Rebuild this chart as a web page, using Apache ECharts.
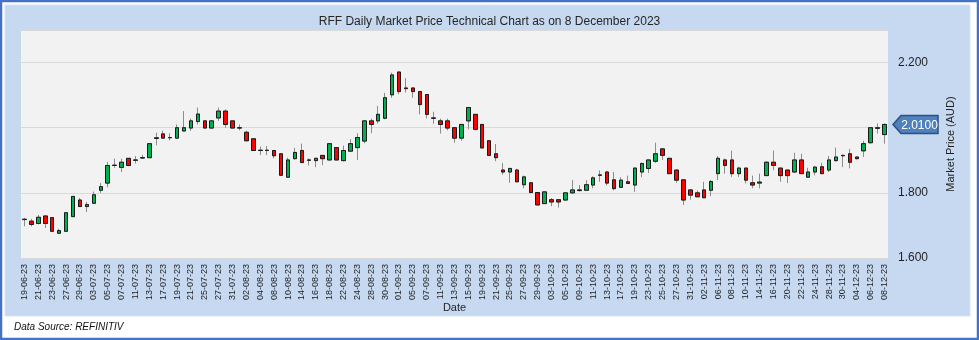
<!DOCTYPE html>
<html>
<head>
<meta charset="utf-8">
<title>RFF Daily Market Price</title>
<script src="https://cdn.jsdelivr.net/npm/echarts@6/dist/echarts.min.js"></script>
<style>
  html, body { margin: 0; padding: 0; background: #ffffff; }
  #chart { width: 979px; height: 340px; }
</style>
</head>
<body>
<div id="chart"></div>
<script>
// Trading days, 19 June 2023 to 8 December 2023
const dates = [
  '19-06-23','20-06-23','21-06-23','22-06-23','23-06-23','26-06-23','27-06-23','28-06-23','29-06-23','30-06-23',
  '03-07-23','04-07-23','05-07-23','06-07-23','07-07-23','10-07-23','11-07-23','12-07-23','13-07-23','14-07-23',
  '17-07-23','18-07-23','19-07-23','20-07-23','21-07-23','24-07-23','25-07-23','26-07-23','27-07-23','28-07-23','31-07-23',
  '01-08-23','02-08-23','03-08-23','04-08-23','07-08-23','08-08-23','09-08-23','10-08-23','11-08-23','14-08-23',
  '15-08-23','16-08-23','17-08-23','18-08-23','21-08-23','22-08-23','23-08-23','24-08-23','25-08-23','28-08-23',
  '29-08-23','30-08-23','31-08-23',
  '01-09-23','04-09-23','05-09-23','06-09-23','07-09-23','08-09-23','11-09-23','12-09-23','13-09-23','14-09-23',
  '15-09-23','18-09-23','19-09-23','20-09-23','21-09-23','22-09-23','25-09-23','26-09-23','27-09-23','28-09-23','29-09-23',
  '02-10-23','03-10-23','04-10-23','05-10-23','06-10-23','09-10-23','10-10-23','11-10-23','12-10-23','13-10-23',
  '16-10-23','17-10-23','18-10-23','19-10-23','20-10-23','23-10-23','24-10-23','25-10-23','26-10-23','27-10-23',
  '30-10-23','31-10-23',
  '01-11-23','02-11-23','03-11-23','06-11-23','07-11-23','08-11-23','09-11-23','10-11-23','13-11-23','14-11-23',
  '15-11-23','16-11-23','17-11-23','20-11-23','21-11-23','22-11-23','23-11-23','24-11-23','27-11-23','28-11-23',
  '29-11-23','30-11-23',
  '01-12-23','04-12-23','05-12-23','06-12-23','07-12-23','08-12-23'
];

// Daily prices (AUD)
const openPrices = [
  1.718,1.713,1.706,1.729,1.724,1.676,1.682,1.727,1.778,1.758,
  1.768,1.808,1.830,1.884,1.878,1.906,1.900,1.907,1.908,1.967,
  1.981,1.969,1.968,1.990,1.999,2.019,2.021,1.999,2.030,2.051,2.021,
  2.000,1.986,1.966,1.930,1.930,1.930,1.920,1.848,1.905,1.930,
  1.900,1.899,1.915,1.901,1.939,1.899,1.928,1.939,1.959,2.021,
  2.021,2.029,2.101,
  2.171,2.122,2.122,2.111,2.102,2.030,2.021,2.021,2.000,1.968,
  2.021,2.041,2.010,1.960,1.920,1.870,1.864,1.870,1.825,1.831,1.801,
  1.767,1.779,1.779,1.778,1.800,1.807,1.808,1.824,1.854,1.864,
  1.840,1.817,1.834,1.824,1.864,1.875,1.897,1.935,1.906,1.870,
  1.840,1.809,
  1.800,1.809,1.808,1.859,1.901,1.901,1.859,1.876,1.831,1.830,
  1.853,1.894,1.876,1.870,1.864,1.901,1.848,1.864,1.880,1.870,
  1.899,1.914,
  1.920,1.910,1.929,1.954,1.998,1.979
];
const closePrices = [
  1.719,1.703,1.725,1.706,1.682,1.684,1.739,1.789,1.758,1.764,
  1.794,1.819,1.884,1.885,1.894,1.884,1.901,1.908,1.951,1.969,
  1.968,1.970,2.000,2.000,2.021,2.042,1.999,2.021,2.051,2.010,1.999,
  1.999,1.960,1.930,1.931,1.931,1.914,1.854,1.901,1.924,1.893,
  1.901,1.906,1.905,1.951,1.901,1.930,1.951,1.970,2.021,2.010,
  2.041,2.092,2.162,
  2.111,2.120,2.111,2.071,2.041,2.029,2.010,1.999,1.968,2.010,
  2.062,1.995,1.938,1.915,1.908,1.864,1.875,1.834,1.849,1.801,1.763,
  1.803,1.772,1.772,1.800,1.809,1.809,1.825,1.846,1.855,1.830,
  1.813,1.839,1.829,1.876,1.890,1.901,1.920,1.915,1.859,1.839,
  1.778,1.793,
  1.788,1.785,1.835,1.906,1.884,1.859,1.876,1.839,1.824,1.833,
  1.894,1.884,1.853,1.853,1.901,1.859,1.864,1.879,1.859,1.901,
  1.910,1.915,
  1.894,1.905,1.951,2.000,2.000,2.010
];
const lowPrices = [
  1.697,1.697,1.703,1.692,1.681,1.674,1.681,1.727,1.757,1.741,
  1.766,1.800,1.817,1.877,1.864,1.883,1.890,1.905,1.907,1.946,
  1.967,1.961,1.966,1.989,1.990,2.010,1.998,1.997,2.021,2.000,1.998,
  1.992,1.958,1.929,1.916,1.916,1.906,1.853,1.847,1.902,1.892,
  1.884,1.879,1.885,1.900,1.900,1.897,1.927,1.901,1.952,1.983,
  2.013,2.026,2.092,
  2.103,2.108,2.092,2.041,2.029,2.012,1.982,1.992,1.954,1.960,
  1.995,1.992,1.937,1.914,1.897,1.856,1.831,1.833,1.814,1.800,1.762,
  1.766,1.759,1.755,1.776,1.798,1.804,1.807,1.814,1.834,1.823,
  1.808,1.816,1.828,1.803,1.848,1.861,1.892,1.901,1.858,1.831,
  1.763,1.779,
  1.787,1.784,1.790,1.839,1.859,1.849,1.849,1.829,1.814,1.814,
  1.852,1.870,1.834,1.830,1.861,1.858,1.846,1.854,1.858,1.864,
  1.896,1.879,
  1.875,1.903,1.910,1.951,1.982,1.951
];
const highPrices = [
  1.723,1.720,1.732,1.730,1.725,1.690,1.740,1.790,1.784,1.772,
  1.804,1.830,1.895,1.905,1.905,1.907,1.913,1.917,1.952,1.985,
  1.991,1.983,2.010,2.051,2.028,2.062,2.023,2.023,2.062,2.056,2.022,
  2.010,1.991,1.967,1.942,1.944,1.931,1.921,1.908,1.938,1.951,
  1.906,1.908,1.916,1.952,1.940,1.945,1.965,1.983,2.022,2.028,
  2.067,2.107,2.169,
  2.172,2.152,2.123,2.112,2.103,2.049,2.028,2.028,2.001,2.012,
  2.063,2.042,2.011,1.961,1.950,1.892,1.876,1.874,1.853,1.832,1.802,
  1.804,1.784,1.780,1.802,1.839,1.824,1.839,1.851,1.869,1.866,
  1.864,1.848,1.853,1.878,1.894,1.903,1.954,1.937,1.907,1.872,
  1.841,1.811,
  1.807,1.834,1.839,1.913,1.905,1.930,1.880,1.877,1.853,1.859,
  1.897,1.930,1.877,1.871,1.923,1.920,1.877,1.882,1.892,1.913,
  1.939,1.918,
  1.935,1.911,1.960,2.001,2.013,2.013
];

// Axis ticks
const priceTicks = { min: 1.6, max: 2.3, step: 0.2 };

const titleText = 'RFF Daily Market Price Technical Chart as on 8 December 2023';
const sourceText = 'Data Source: REFINITIV';

const FONT = "'Liberation Sans', Arial, sans-serif";
const UP = '#00B050';
const DOWN = '#FF0000';

// Wick layer (full high/low range) and body layer (open/close only)
const wickData = dates.map((d, i) => [openPrices[i], closePrices[i], lowPrices[i], highPrices[i]]);
const bodyData = dates.map((d, i) => {
  const o = openPrices[i], c = closePrices[i];
  return [o, c, Math.min(o, c), Math.max(o, c)];
});
const lastIdx = dates.length - 1;
const lastClose = closePrices[lastIdx];

const chart = echarts.init(document.getElementById('chart'), null, { renderer: 'canvas' });

chart.setOption({
  animation: false,
  backgroundColor: '#ffffff',
  textStyle: { fontFamily: FONT },
  graphic: [
    { type: 'rect', z: -10, silent: true,
      shape: { x: 1, y: 1, width: 977, height: 338 },
      style: { fill: '#ffffff', stroke: '#4472C4', lineWidth: 2.5 } },
    { type: 'rect', z: -9, silent: true,
      shape: { x: 5, y: 5, width: 965, height: 311 },
      style: { fill: '#C6D9F0', stroke: '#D6E3F4', lineWidth: 1 } },
    { type: 'text', left: 14, top: 322, silent: true,
      style: { text: sourceText, font: 'italic 10px ' + FONT, fill: '#111111' } }
  ],
  title: {
    text: titleText,
    left: 'center',
    top: 11,
    textStyle: { fontFamily: FONT, fontSize: 12, fontWeight: 'normal', color: '#262626' }
  },
  grid: {
    left: 21, right: 91, top: 30, bottom: 82,
    show: true, backgroundColor: '#F2F2F2', borderWidth: 0
  },
  xAxis: {
    type: 'category',
    data: dates,
    boundaryGap: true,
    name: 'Date',
    nameLocation: 'middle',
    nameGap: 44,
    nameMoveOverlap: false,
    nameTextStyle: { fontFamily: FONT, fontSize: 11, color: '#262626' },
    axisLine: { show: true, lineStyle: { color: '#D9D9D9' } },
    axisTick: { show: false },
    axisLabel: {
      interval: 1, rotate: 90, margin: 6,
      fontFamily: FONT, fontSize: 9, color: '#1f1f1f'
    },
    splitLine: { show: false }
  },
  yAxis: {
    type: 'value',
    position: 'right',
    min: priceTicks.min,
    max: priceTicks.max,
    interval: priceTicks.step,
    name: 'Market Price (AUD)',
    nameLocation: 'middle',
    nameRotate: 90,
    nameGap: 57,
    nameMoveOverlap: false,
    nameTextStyle: { fontFamily: FONT, fontSize: 11, color: '#1f1f1f' },
    axisLine: { show: false },
    axisTick: { show: false },
    axisLabel: {
      margin: 10, showMaxLabel: false,
      fontFamily: FONT, fontSize: 12, color: '#1f1f1f',
      formatter: v => v.toFixed(3)
    },
    splitLine: { show: true, lineStyle: { color: '#D9D9D9', width: 1 } }
  },
  series: [
    {
      name: 'wick',
      type: 'candlestick',
      data: wickData,
      barWidth: 4,
      silent: true,
      itemStyle: {
        color: 'rgba(0,0,0,0)', color0: 'rgba(0,0,0,0)',
        borderColor: '#8C8C8C', borderColor0: '#8C8C8C', borderWidth: 1
      }
    },
    {
      name: 'body',
      type: 'candlestick',
      data: bodyData,
      barWidth: 4,
      itemStyle: {
        color: UP, color0: DOWN,
        borderColor: '#1a1a1a', borderColor0: '#1a1a1a', borderWidth: 1
      }
    },
    {
      name: 'last',
      type: 'custom',
      coordinateSystem: 'cartesian2d',
      clip: false,
      z: 10,
      data: [[lastIdx, lastClose]],
      renderItem: function (params, api) {
        const pt = api.coord([api.value(0), api.value(1)]);
        const cs = params.coordSys;
        const x0 = cs.x + cs.width + 5;
        const y = pt[1];
        const w = 45, h = 18, notch = 8;
        return {
          type: 'group',
          children: [
            { type: 'polygon',
              shape: { points: [[x0, y], [x0 + notch, y - h / 2], [x0 + w, y - h / 2], [x0 + w, y + h / 2], [x0 + notch, y + h / 2]] },
              style: { fill: '#4F81BD', stroke: '#2F4F7F', lineWidth: 1.5 } },
            { type: 'text',
              style: { x: x0 + notch + (w - notch) / 2, y: y + 1, text: api.value(1).toFixed(4),
                       align: 'center', verticalAlign: 'middle', font: '12px ' + FONT, fill: '#ffffff' } }
          ]
        };
      }
    }
  ]
});
</script>
</body>
</html>
